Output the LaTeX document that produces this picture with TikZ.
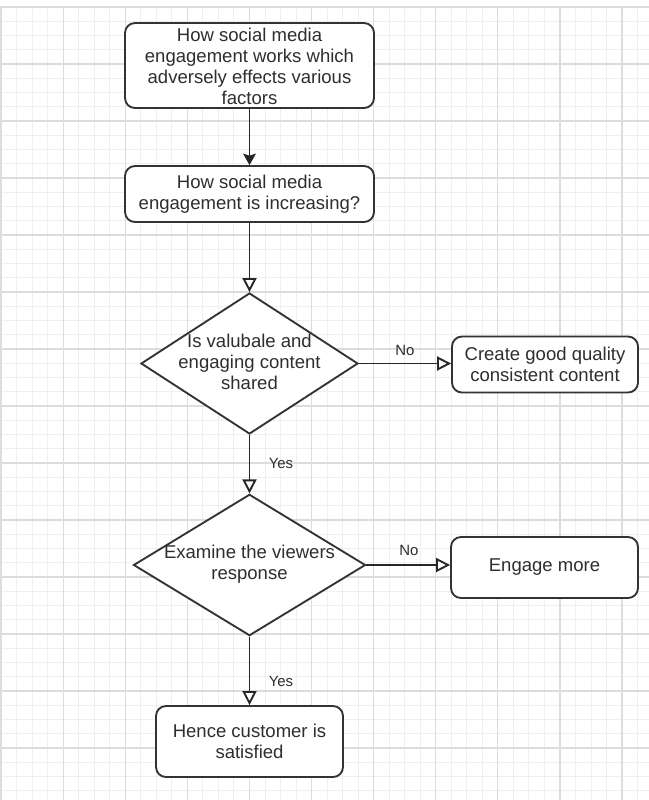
\documentclass[tikz,border=0pt]{standalone}
\usepackage{fontspec}
\setmainfont{Liberation Sans}
\usetikzlibrary{shapes.geometric,arrows.meta}
\definecolor{txt}{HTML}{2E2E2E}
\definecolor{edge}{HTML}{333333}
\definecolor{gmin}{HTML}{EFEFEF}
\definecolor{gmaj}{HTML}{DCDCDC}
\tikzset{
  gridminor/.style={draw=gmin,line width=0.6pt},
  gridmajor/.style={draw=gmaj,line width=0.9pt},
  procbox/.style={draw=edge,line width=1.4pt,rounded corners=7.5pt,fill=white,inner sep=0pt},
  decision/.style={draw=edge,line width=1.4pt,diamond,fill=white,inner sep=0pt},
  boxtext/.style={text=txt,align=center,inner sep=0pt,font=\fontsize{13.9}{15.8}\selectfont},
  edgelabel/.style={text=txt,inner sep=0pt,font=\fontsize{11.2}{12}\selectfont},
  flowfilled/.style={draw=black!85,line width=1.4pt,-{Stealth[length=8.5pt,width=9.5pt,inset=1.5pt]}},
  flowopen/.style={draw=black!85,line width=1.4pt,-{Triangle[length=10.5pt,width=10.5pt,fill=white]}},
}
\begin{document}
\begin{tikzpicture}[x=0.75pt,y=-0.75pt]
\useasboundingbox (0,0) rectangle (649,800);
\fill[white] (0,0) rectangle (649,800);
% grid
\foreach \i in {0,...,41} {\draw[gridminor] ({1+15.525*\i},7) -- ({1+15.525*\i},800);}
\foreach \j in {0,...,55} {\draw[gridminor] (0,{7+14.25*\j}) -- (649,{7+14.25*\j});}
\foreach \i in {0,...,10} {\draw[gridmajor] ({1+62.1*\i},7) -- ({1+62.1*\i},800);}
\foreach \j in {0,...,13} {\draw[gridmajor] (0,{7+57*\j}) -- (649,{7+57*\j});}

% nodes
\node[procbox,minimum width=186.75pt,minimum height=63.75pt] (b1) at (249.5,65.5) {};
\node[boxtext] (b1t) at (249.5,66.5) {How social media\\engagement works which\\adversely effects various\\factors};

\node[procbox,minimum width=186.75pt,minimum height=42pt] (b2) at (249.5,194) {};
\node[boxtext] (b2t) at (249.5,194) {How social media\\engagement is increasing?};

\node[decision,minimum width=162.75pt,minimum height=105.75pt] (d1) at (249.5,363.5) {};
\node[boxtext] (d1t) at (249.5,361.5) {Is valubale and\\engaging content\\shared};

\node[procbox,minimum width=139.5pt,minimum height=42pt] (b3) at (545,364.5) {};
\node[boxtext] (b3t) at (545,364.5) {Create good quality\\consistent content};

\node[decision,minimum width=174pt,minimum height=106pt] (d2) at (249.5,565) {};
\node[boxtext] (d2t) at (249.5,564) {Examine the viewers\\response};

\node[procbox,minimum width=140.25pt,minimum height=45.75pt] (b4) at (544.5,567.5) {};
\node[boxtext] (b4t) at (544.5,567.5) {Engage more};

\node[procbox,minimum width=140.25pt,minimum height=53.25pt] (b5) at (249.5,741.5) {};
\node[boxtext] (b5t) at (249.5,741.5) {Hence customer is\\satisfied};

% connectors
\draw[flowfilled] (b1.south) -- (b2.north);
\draw[flowopen] (b2.south) -- (d1.north);
\draw[flowopen] (d1.east) -- (b3.west |- d1.east);
\draw[flowopen] (d1.south) -- (d2.north);
\draw[flowopen] (d2.east) -- (b4.west |- d2.east);
\draw[flowopen] (d2.south) -- (b5.north);

% labels
\node[edgelabel] (lno1) at (405,350) {No};
\node[edgelabel] (lyes1) at (281,463) {Yes};
\node[edgelabel] (lno2) at (409,550) {No};
\node[edgelabel] (lyes2) at (281,681) {Yes};
\end{tikzpicture}
\end{document}
